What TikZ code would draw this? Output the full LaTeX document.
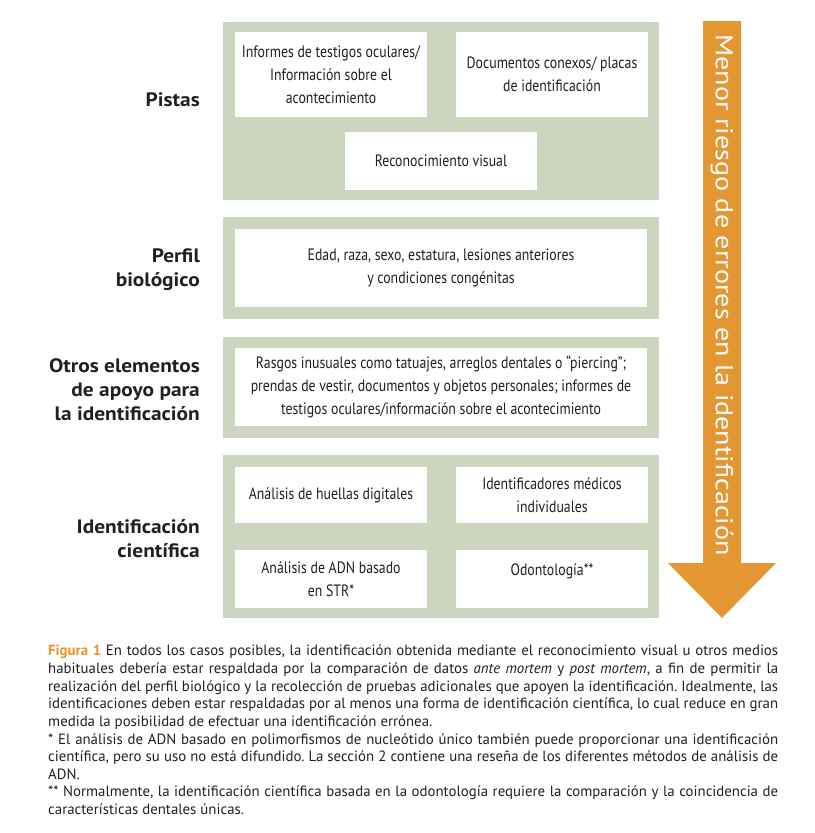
\documentclass[tikz,border=0pt]{standalone}
\usepackage{fontspec}
\setmainfont{PT Sans}
\newfontfamily\condfont[FakeStretch=0.84]{PT Sans}
\newfontfamily\widefont[FakeStretch=1.1]{PT Sans}
\newfontfamily\arrowfont[FakeStretch=1.15]{PT Sans}
\definecolor{panelgreen}{RGB}{204,213,190}
\definecolor{arroworange}{RGB}{227,150,49}
\definecolor{figorange}{RGB}{232,149,46}
\definecolor{txt}{RGB}{35,31,32}
\newcommand{\capjl}[1]{\hbox to \hsize{#1}}
\newcommand{\capnl}[1]{\hbox{#1}}
\tikzset{
  panel/.style={fill=panelgreen, draw=none, inner sep=0, minimum width=436bp},
  whitebox/.style={fill=white, draw=none, inner sep=0, align=center, text=txt,
    font=\condfont\fontsize{16.5}{23}\selectfont},
  sidelabel/.style={anchor=east, align=right, inner sep=0, text=txt,
    font=\widefont\bfseries\fontsize{19.5}{24}\selectfont},
}
\begin{document}
\begin{tikzpicture}[x=1bp,y=-1bp]
\useasboundingbox (0,0) rectangle (815,833);
% panels
\node[panel, minimum height=178bp] (p1) at (441,111) {};
\node[panel, minimum height=102bp] (p2) at (441,268) {};
\node[panel, minimum height=101bp] (p3) at (441,387.5) {};
\node[panel, minimum height=163bp] (p4) at (441,536.5) {};
% panel 1 boxes
\node[whitebox, minimum width=192bp, minimum height=85bp] (a1) at (331,74.5)
  {Informes de testigos oculares/\\Información sobre el\\acontecimiento};
\node[whitebox, minimum width=192bp, minimum height=85bp] (a2) at (552,74.5)
  {Documentos conexos/ placas\\de identificación};
\node[whitebox, minimum width=192bp, minimum height=58bp] (a3) at (441,161)
  {Reconocimiento visual};
% panel 2 box
\node[whitebox, minimum width=412bp, minimum height=78bp] (b1) at (441,268)
  {Edad, raza, sexo, estatura, lesiones anteriores\\y condiciones congénitas};
% panel 3 box
\node[whitebox, minimum width=412bp, minimum height=78bp] (c1) at (441,387)
  {Rasgos inusuales como tatuajes, arreglos dentales o “piercing”;\\prendas de vestir, documentos y objetos personales; informes de\\testigos oculares/información sobre el acontecimiento};
% panel 4 boxes
\node[whitebox, minimum width=192bp, minimum height=56bp] (d1) at (331,495)
  {Análisis de huellas digitales};
\node[whitebox, minimum width=192bp, minimum height=56bp] (d2) at (552,495)
  {Identificadores médicos\\individuales};
\node[whitebox, minimum width=192bp, minimum height=58bp] (d3) at (331,579)
  {Análisis de ADN basado\\en STR*};
\node[whitebox, minimum width=192bp, minimum height=58bp] (d4) at (552,579) {};
\node[whitebox, fill=none, anchor=center] (d4t) at (552,571) {Odontología**};
% side labels
\node[sidelabel] (l1) at (200,100) {Pistas};
\node[sidelabel] (l2) at (200,270) {Perfil\\biológico};
\node[sidelabel] (l3) at (200,389.5) {Otros elementos\\de apoyo para\\la identificación};
\node[sidelabel] (l4) at (200,539) {Identificación\\científica};
% arrow
\fill[arroworange] (703,21) -- (741,21) -- (741,563) -- (776,563) -- (722,618)
  -- (668,563) -- (703,563) -- cycle;
\node[rotate=-90, text=white, inner sep=0, font=\arrowfont\fontsize{24.5}{28}\selectfont] (arrtxt) at (722,295)
  {Menor riesgo de errores en la identificación};
% caption
\node[anchor=north west, inner sep=0, text=txt] (cap) at (48,645) {\parbox{730bp}{%
\fontsize{14.9}{17.7}\selectfont\frenchspacing
\capjl{{\bfseries\color{figorange}Figura 1} En todos los casos posibles, la identificación obtenida mediante el reconocimiento visual u otros medios}
\capjl{habituales debería estar respaldada por la comparación de datos \textit{ante mortem} y \textit{post mortem}, a fin de permitir la}
\capjl{realización del perfil biológico y la recolección de pruebas adicionales que apoyen la identificación. Idealmente, las}
\capjl{identificaciones deben estar respaldadas por al menos una forma de identificación científica, lo cual reduce en gran}
\capnl{medida la posibilidad de efectuar una identificación errónea.}
\capjl{* El análisis de ADN basado en polimorfismos de nucleótido único también puede proporcionar una identificación}
\capjl{científica, pero su uso no está difundido. La sección 2 contiene una reseña de los diferentes métodos de análisis de}
\capnl{ADN.}
\capjl{** Normalmente, la identificación científica basada en la odontología requiere la comparación y la coincidencia de}
\capnl{características dentales únicas.}}};
\end{tikzpicture}
\end{document}
